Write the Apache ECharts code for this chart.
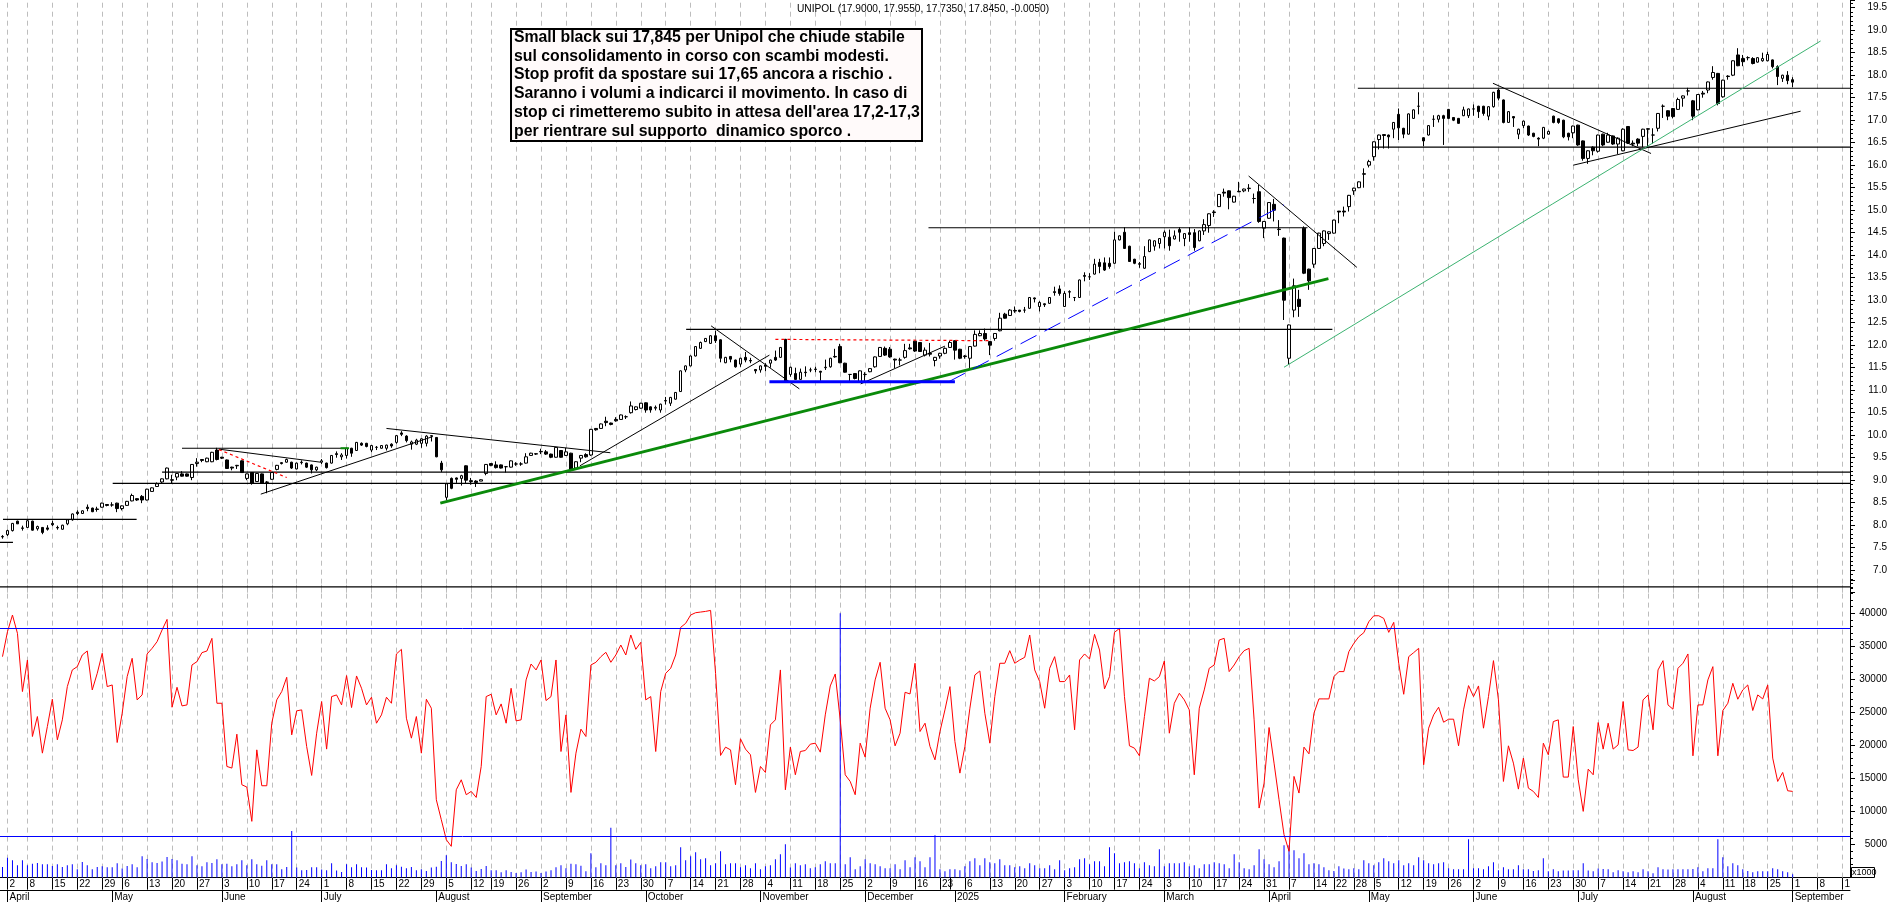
<!DOCTYPE html>
<html>
<head>
<meta charset="utf-8">
<title>UNIPOL</title>
<script src="https://cdn.jsdelivr.net/npm/echarts@6/dist/echarts.min.js"></script>
<style>
  html, body { margin: 0; padding: 0; background: #fff; overflow: hidden; }
  #main { width: 1890px; height: 902px; }
</style>
</head>
<body>
<div id="main"></div>
<script>
// one row per session: open, close, low, high
const ohlc = [
[7.74,7.75,7.70,7.78],[7.79,7.88,7.76,7.90],[7.88,8.04,7.86,8.05],[8.09,8.03,8.03,8.10],[7.94,7.93,7.88,7.99],
[7.95,8.10,7.95,8.11],[8.09,7.89,7.88,8.10],[7.92,7.97,7.88,7.99],[7.95,7.84,7.80,7.96],[7.94,7.91,7.88,8.00],
[8.04,8.01,7.98,8.10],[7.95,7.94,7.90,7.99],[7.91,8.00,7.90,8.01],[8.03,8.12,8.00,8.13],[8.12,8.25,8.10,8.26],
[8.29,8.26,8.22,8.33],[8.26,8.32,8.25,8.33],[8.40,8.37,8.31,8.46],[8.38,8.30,8.29,8.39],[8.36,8.35,8.30,8.41],
[8.40,8.49,8.39,8.50],[8.46,8.44,8.42,8.47],[8.45,8.45,8.41,8.51],[8.49,8.37,8.29,8.50],[8.37,8.43,8.33,8.44],
[8.44,8.53,8.43,8.54],[8.54,8.66,8.53,8.70],[8.59,8.56,8.54,8.60],[8.64,8.56,8.49,8.67],[8.56,8.80,8.55,8.81],
[8.75,8.83,8.74,8.84],[8.86,8.92,8.85,8.95],[8.96,9.03,8.93,9.04],[9.03,9.27,9.02,9.28],[9.01,9.00,8.93,9.12],
[9.07,9.15,9.00,9.16],[9.14,9.09,9.08,9.20],[9.14,9.09,9.08,9.15],[9.06,9.35,9.00,9.36],[9.37,9.40,9.30,9.49],
[9.46,9.44,9.40,9.47],[9.41,9.49,9.40,9.50],[9.41,9.62,9.40,9.63],[9.67,9.46,9.44,9.72],[9.51,9.49,9.47,9.52],
[9.45,9.26,9.25,9.46],[9.29,9.27,9.22,9.30],[9.32,9.33,9.25,9.34],[9.43,9.17,9.16,9.44],[9.04,9.14,9.00,9.15],
[9.17,8.93,8.90,9.18],[8.97,9.15,8.96,9.16],[9.14,8.93,8.92,9.15],[8.95,8.96,8.71,8.98],[9.02,9.17,9.01,9.18],
[9.24,9.33,9.22,9.34],[9.39,9.37,9.35,9.40],[9.40,9.46,9.39,9.48],[9.40,9.27,9.25,9.41],[9.25,9.38,9.24,9.39],
[9.39,9.40,9.35,9.44],[9.38,9.29,9.27,9.39],[9.34,9.23,9.15,9.35],[9.23,9.29,9.20,9.30],[9.40,9.43,9.36,9.47],
[9.38,9.28,9.26,9.39],[9.38,9.55,9.37,9.56],[9.59,9.57,9.50,9.64],[9.52,9.56,9.45,9.60],[9.55,9.71,9.48,9.72],
[9.71,9.60,9.52,9.72],[9.66,9.84,9.65,9.85],[9.82,9.78,9.76,9.84],[9.82,9.75,9.73,9.83],[9.67,9.77,9.62,9.78],
[9.73,9.73,9.67,9.76],[9.71,9.77,9.70,9.78],[9.71,9.78,9.66,9.79],[9.80,9.76,9.72,9.82],[9.84,9.99,9.81,10.00],
[10.05,10.02,9.98,10.09],[9.98,9.88,9.84,10.00],[9.80,9.85,9.68,9.88],[9.80,9.89,9.78,9.92],[9.82,9.92,9.72,9.93],
[9.82,9.98,9.75,10.00],[9.98,9.99,9.86,10.00],[9.95,9.52,9.51,9.96],[9.38,9.23,9.18,9.43],[8.62,8.92,8.56,8.93],
[9.04,8.82,8.80,9.06],[9.05,9.02,8.94,9.06],[9.04,9.10,8.88,9.12],[9.32,9.00,8.92,9.33],[8.99,8.97,8.90,9.05],
[8.98,8.95,8.85,9.00],[8.98,9.01,8.98,9.02],[9.15,9.35,9.11,9.36],[9.37,9.33,9.31,9.38],[9.34,9.28,9.26,9.42],
[9.34,9.27,9.26,9.35],[9.30,9.30,9.17,9.31],[9.29,9.43,9.28,9.44],[9.36,9.36,9.32,9.40],[9.36,9.36,9.32,9.40],
[9.38,9.52,9.37,9.60],[9.55,9.60,9.54,9.61],[9.58,9.59,9.56,9.60],[9.63,9.64,9.58,9.70],[9.63,9.58,9.56,9.67],
[9.58,9.51,9.49,9.59],[9.51,9.73,9.50,9.74],[9.66,9.51,9.50,9.67],[9.55,9.63,9.54,9.72],[9.60,9.24,9.20,9.61],
[9.27,9.41,9.26,9.42],[9.49,9.55,9.40,9.56],[9.57,9.52,9.50,9.60],[9.56,10.13,9.54,10.14],[10.15,10.12,10.10,10.16],
[10.15,10.25,10.14,10.26],[10.31,10.28,10.20,10.41],[10.27,10.24,10.22,10.28],[10.35,10.32,10.30,10.40],[10.35,10.45,10.34,10.46],
[10.41,10.41,10.36,10.44],[10.50,10.65,10.48,10.75],[10.57,10.63,10.55,10.64],[10.60,10.71,10.59,10.72],[10.72,10.56,10.50,10.73],
[10.63,10.56,10.50,10.64],[10.60,10.62,10.55,10.66],[10.56,10.69,10.50,10.70],[10.76,10.77,10.68,10.85],[10.71,10.84,10.65,10.85],
[10.80,10.95,10.79,10.96],[10.97,11.43,10.96,11.44],[11.45,11.54,11.40,11.55],[11.54,11.76,11.53,11.77],[11.76,11.97,11.75,11.98],
[11.93,12.06,11.92,12.08],[12.08,12.15,12.07,12.16],[12.04,12.21,12.03,12.22],[12.21,12.10,12.05,12.32],[12.12,11.71,11.62,12.13],
[11.61,11.73,11.60,11.74],[11.75,11.69,11.62,11.76],[11.67,11.52,11.50,11.68],[11.58,11.71,11.52,11.72],[11.73,11.67,11.62,11.85],
[11.66,11.65,11.60,11.72],[11.46,11.43,11.37,11.47],[11.45,11.54,11.39,11.55],[11.56,11.53,11.42,11.60],[11.60,11.67,11.50,11.68],
[11.73,11.67,11.65,11.88],[11.73,11.95,11.72,11.96],[12.13,11.19,11.17,12.14],[11.35,11.51,11.30,11.52],[11.37,11.24,11.23,11.50],
[11.24,11.40,11.23,11.48],[11.40,11.39,11.30,11.53],[11.45,11.45,11.40,11.50],[11.46,11.47,11.40,11.52],[11.42,11.40,11.21,11.43],
[11.50,11.51,11.45,11.68],[11.52,11.71,11.50,11.72],[11.75,11.74,11.72,11.92],[11.97,11.61,11.60,12.03],[11.60,11.40,11.39,11.61],
[11.35,11.35,11.18,11.36],[11.37,11.26,11.24,11.38],[11.19,11.43,11.16,11.44],[11.35,11.35,11.20,11.40],[11.41,11.48,11.40,11.49],
[11.52,11.74,11.50,11.75],[11.75,11.95,11.74,11.96],[11.93,11.78,11.76,11.97],[11.91,11.74,11.72,11.96],[11.69,11.67,11.49,11.70],
[11.67,11.67,11.55,11.72],[11.73,11.88,11.70,12.03],[11.94,11.92,11.90,12.03],[12.09,11.87,11.85,12.10],[12.06,11.86,11.85,12.07],
[11.78,11.89,11.75,11.95],[11.82,11.80,11.75,12.05],[11.66,11.73,11.53,11.74],[11.76,11.82,11.70,11.83],[11.82,11.93,11.80,11.95],
[11.95,12.06,11.94,12.10],[12.10,11.89,11.68,12.11],[11.91,11.71,11.69,11.92],[11.76,11.75,11.70,11.78],[11.71,11.97,11.48,11.98],
[11.98,12.24,11.97,12.33],[12.21,12.26,12.20,12.33],[12.26,12.14,12.10,12.37],[12.08,12.00,11.78,12.09],[12.15,12.26,12.10,12.27],
[12.32,12.60,12.31,12.72],[12.69,12.60,12.59,12.72],[12.66,12.78,12.65,12.80],[12.77,12.76,12.72,12.86],[12.78,12.75,12.73,12.78],
[12.78,12.78,12.72,12.85],[12.82,13.06,12.81,13.07],[13.05,13.03,12.95,13.06],[12.86,12.95,12.75,12.98],[12.92,12.90,12.85,12.93],
[12.93,13.06,12.92,13.07],[13.19,13.17,13.10,13.30],[13.25,13.15,13.10,13.33],[12.86,13.15,12.85,13.20],[13.19,13.18,13.05,13.22],
[13.06,13.06,12.98,13.07],[13.06,13.45,13.05,13.46],[13.55,13.53,13.42,13.62],[13.52,13.52,13.45,13.60],[13.58,13.80,13.57,13.92],
[13.84,13.75,13.60,13.92],[13.83,13.67,13.65,13.95],[13.82,13.75,13.70,13.95],[13.82,14.34,13.81,14.52],[14.34,14.43,14.33,14.44],
[14.51,14.15,14.14,14.62],[14.20,13.86,13.85,14.21],[13.91,13.82,13.80,13.92],[13.81,13.80,13.72,13.85],[13.71,13.97,13.70,14.20],
[14.08,14.34,14.07,14.35],[14.20,14.32,14.10,14.33],[14.26,14.37,14.15,14.38],[14.41,14.51,14.15,14.55],[14.40,14.21,14.10,14.57],
[14.36,14.43,14.35,14.55],[14.57,14.51,14.30,14.62],[14.37,14.48,14.20,14.49],[14.50,14.46,14.30,14.62],[14.50,14.17,14.10,14.58],
[14.32,14.54,14.31,14.55],[14.54,14.68,14.45,14.80],[14.66,14.92,14.50,14.93],[14.96,14.95,14.85,15.00],[15.08,15.35,15.07,15.36],
[15.40,15.38,15.30,15.48],[15.43,15.28,15.02,15.44],[15.18,15.31,15.17,15.32],[15.42,15.41,15.40,15.63],[15.43,15.47,15.40,15.48],
[15.48,15.49,15.41,15.58],[15.26,15.26,15.15,15.37],[15.41,14.75,14.72,15.56],[14.60,14.75,14.38,14.76],[14.82,15.17,14.81,15.18],
[15.13,15.00,14.75,15.25],[14.58,14.57,14.43,14.78],[14.38,13.00,12.56,14.39],[11.71,12.45,11.58,12.46],[12.78,13.32,12.62,13.48],
[13.02,12.86,12.63,13.23],[14.60,13.60,13.58,14.64],[13.69,13.43,13.23,13.70],[13.80,14.15,13.72,14.16],[14.15,14.49,14.14,14.50],
[14.26,14.54,14.20,14.55],[14.48,14.52,14.34,14.53],[14.49,14.78,14.48,14.79],[14.98,14.96,14.71,14.98],[14.98,14.96,14.86,15.08],
[15.08,15.33,14.97,15.34],[15.43,15.49,15.34,15.50],[15.50,15.63,15.49,15.64],[15.81,15.80,15.50,15.93],[16.00,16.08,15.95,16.12],
[16.19,16.52,16.10,16.53],[16.57,16.67,16.35,16.68],[16.68,16.66,16.37,16.69],[16.67,16.63,16.37,16.68],[16.80,16.95,16.60,16.96],
[17.13,16.83,16.56,17.26],[16.82,16.69,16.60,16.83],[16.69,17.14,16.68,17.15],[17.04,17.23,17.03,17.24],[17.31,17.31,17.13,17.62],
[16.61,16.54,16.42,16.62],[16.67,16.88,16.66,16.89],[17.02,17.02,16.85,17.11],[17.02,17.10,16.95,17.12],[17.10,17.04,16.45,17.12],
[17.24,17.04,17.02,17.25],[17.06,17.00,16.98,17.07],[17.04,16.93,16.92,17.05],[17.10,17.23,17.09,17.30],[17.10,17.25,17.05,17.26],
[17.25,17.25,17.10,17.35],[17.31,17.19,17.05,17.32],[17.31,17.15,17.10,17.32],[17.09,17.30,17.00,17.31],[17.30,17.62,17.28,17.63],
[17.67,17.49,17.44,17.70],[17.45,16.95,16.93,17.46],[16.95,17.19,16.94,17.20],[17.08,17.05,16.85,17.09],[16.69,16.80,16.58,16.81],
[16.88,16.98,16.82,16.99],[16.87,16.67,16.65,16.88],[16.71,16.64,16.62,16.72],[16.60,16.58,16.42,16.62],[16.60,16.84,16.58,16.85],
[16.69,16.75,16.68,16.77],[17.09,16.95,16.93,17.10],[17.03,16.95,16.92,17.04],[17.00,16.63,16.60,17.01],[16.71,16.63,16.55,16.72],
[16.72,16.87,16.60,16.88],[16.89,16.45,16.43,16.90],[16.54,16.15,16.10,16.55],[16.15,16.32,16.03,16.33],[16.40,16.32,16.22,16.42],
[16.31,16.67,16.28,16.68],[16.69,16.45,16.42,16.70],[16.51,16.67,16.50,16.72],[16.65,16.47,16.45,16.66],[16.47,16.60,16.25,16.62],
[16.32,16.80,16.31,16.82],[16.86,16.49,16.47,16.87],[16.49,16.47,16.42,16.55],[16.58,16.49,16.42,16.60],[16.64,16.80,16.40,16.81],
[16.81,16.80,16.40,16.82],[16.67,16.67,16.48,16.82],[16.82,17.15,16.75,17.16],[17.31,17.31,17.05,17.35],[17.21,17.09,17.00,17.22],
[17.26,17.08,17.04,17.27],[17.24,17.46,17.23,17.50],[17.49,17.54,17.30,17.55],[17.65,17.65,17.55,17.72],[17.43,17.09,17.00,17.45],
[17.23,17.57,17.22,17.58],[17.60,17.58,17.50,17.65],[17.67,17.85,17.60,17.86],[17.95,18.06,17.90,18.20],[18.04,17.37,17.33,18.05],
[17.52,17.89,17.50,17.90],[17.98,17.97,17.90,18.00],[18.00,18.32,17.98,18.33],[18.45,18.21,18.20,18.60],[18.37,18.30,18.20,18.45],
[18.39,18.39,18.33,18.42],[18.37,18.26,18.24,18.40],[18.29,18.39,18.28,18.40],[18.32,18.37,18.30,18.50],[18.32,18.46,18.31,18.52],
[18.34,18.19,18.15,18.35],[18.19,17.97,17.78,18.22],[17.93,18.00,17.85,18.01],[18.00,17.88,17.80,18.09],[17.90,17.845,17.735,17.955]
];

const volumes = [
1610,3020,2620,1860,2620,1860,2110,2220,2010,2010,1760,2010,1610,1860,2010,1260,2370,1860,1260,1610,
1710,1560,1560,2170,1360,1760,2010,1560,3220,2820,2320,2220,2420,3120,2820,2620,2110,2010,3220,1860,
1710,2320,2220,2770,2010,2110,1710,2010,2620,1860,2770,2010,1810,2620,2010,2010,1260,1610,7050,1510,
1110,1160,1560,1560,1210,1110,2170,1060,860,2010,1560,2010,1560,1510,1160,1110,1110,2010,1410,1860,
1660,1410,1610,1110,1260,1010,1510,1660,2520,3370,2320,2060,1760,2010,1510,1010,1310,1760,1110,1110,
810,1110,860,700,810,1210,860,910,700,910,1110,1560,1860,1410,2110,2010,1810,960,3680,1560,
2170,1860,7550,1860,2170,1610,2720,2170,1860,2010,1410,1710,2320,2320,1710,1860,4580,2620,3220,3830,
2770,2920,1860,2170,3980,2010,2170,2170,1560,1860,1410,2170,1260,1710,1860,2770,3520,5040,1510,2170,
1860,2010,1410,1560,2010,2470,2170,2170,40000,2010,3070,1260,1710,2770,2170,2010,1710,1410,1410,2010,
1260,2620,1560,3070,2470,1560,3070,6390,1260,960,1260,1260,1110,1710,2470,2920,1860,2920,2320,2170,
2770,1860,1860,1560,1710,1410,2170,1860,1410,1410,1860,1260,2620,1110,1410,1560,2770,2920,2010,2470,
2470,1710,4580,3680,2170,2320,2470,2170,1410,2320,1860,1710,4280,1710,2170,2170,2170,2320,1710,1860,
1410,2010,2010,2320,2170,2010,1410,3520,2320,1410,1260,1860,4280,2770,2010,1560,2470,4880,4880,4130,
2920,3680,2010,2170,2010,1560,1110,1010,1710,1360,1260,1410,1260,2620,2170,1860,2320,2920,2470,2170,
2620,1860,2170,1860,3070,2620,2170,2010,2170,2320,1410,1260,1260,1260,5790,1410,1410,1260,1710,2320,
1110,1560,1260,1260,1860,1260,1260,1010,1110,2920,960,1260,960,1060,1060,1110,1110,2170,1060,960,
1360,1310,1260,810,1110,960,810,960,810,1260,960,650,1560,1260,1210,1260,1260,1260,1260,1310,
1560,960,1410,1410,5790,3070,1710,2170,1860,1260,1010,810,960,960,960,1410,1260,960,810,500
];

const volumeLine = [
33430,37210,39730,36960,28150,32930,21350,24370,18830,22860,26990,20850,23870,28900,31420,31920,33680,34290,28400,30910,
33940,28900,29150,20440,24870,30410,33180,26890,27640,33840,34690,35700,37460,39070,25780,28800,25980,26130,32170,32680,
34040,34290,36200,26380,26380,16820,16570,21700,14050,13700,8510,19330,13900,13900,23360,26890,28150,30310,21600,25230,
25380,19840,15460,21850,26640,19440,27390,27640,26130,30560,25730,30510,28650,26130,27290,23360,24620,27290,26380,33840,
34540,24120,21100,24370,18830,26990,25630,11780,8760,5740,4730,13290,14800,12540,13040,12130,16820,27390,27740,24620,
26280,23360,28650,23710,23870,29910,32320,31420,32930,26790,27390,32930,19080,24620,12890,18830,22460,21350,32170,32580,
33430,34090,32580,33680,35190,33680,36710,34540,35600,26890,27390,19080,28150,30910,31670,33680,37860,38470,39730,40080,
40180,40280,40430,30910,18480,19740,19330,14050,21000,19440,18580,12890,16820,15910,23110,23870,31420,13290,19740,15560,
19080,19230,20190,20340,18980,24620,29000,30810,23870,15560,14550,12540,20340,18230,25630,29910,32580,25630,23870,19940,
21850,28040,27790,32430,22100,23360,19840,17820,22100,25380,28900,20590,15810,19840,25630,30660,31270,24870,20340,27390,
32430,32430,34340,32430,32930,33330,36710,31420,29660,25630,31670,33430,29660,29660,30660,22360,32930,33840,33080,36810,
34440,28550,30410,37110,37710,27390,19940,19590,18430,24370,30160,29760,30410,32780,21850,26380,27890,26890,25380,15560,
25630,28400,31670,32170,35950,36200,31170,32170,33430,34340,34690,23870,10520,14300,22710,17320,11780,6500,3980,15310,
12790,19740,18730,24870,27040,27040,27040,30410,31170,31170,34190,35450,36450,37060,38720,39620,39620,39220,37110,38620,
32430,27740,33430,34040,34690,17070,22610,24620,25780,23510,23970,23970,19940,25380,29050,27390,29000,22610,27390,32830,
26890,14550,19940,17320,13390,18080,13540,13040,12130,20340,18580,23610,23870,15210,15210,22860,14800,10020,16410,15560,
23460,19440,23360,19440,20090,26640,19330,19230,19740,26890,27640,22360,31420,32830,26130,25480,31670,32430,33840,18430,
26130,26130,29910,31920,18430,25280,26380,29400,26990,28400,29150,25280,27640,27040,29150,18080,14550,15910,13140,13040
];

const volumeLevels = [37730, 6300];

// bar position, day of the month shown under the weekly gridlines
const weekIdx = [1,5,10,15,20,24,29,34,39,44,49,54,59,64,69,74,79,84,89,94,98,103,108,113,118,123,128,133,138,143,148,153,158,163,168,173,178,183,188,193,198,203,208,213,218,223,228,233,238,243,248,253,258,263,267,271,275,280,285,290,295,300,305,310,315,320,325,330,335,340,345,349,354,359,364,369];
const weekLabels = ['2','8','15','22','29','6','13','20','27','3','10','17','24','1','8','15','22','29','5','12','19','26','2','9','16','23','30','7','14','21','28','4','11','18','25','2','9','16','23','6','13','20','27','3','10','17','24','3','10','17','24','31','7','14','22','28','5','12','19','26','2','9','16','23','30','7','14','21','28','4','11','18','25','1','8','1'];
const extraTickIdx = [190];

const monthIdx = [1,22,44,64,87,108,129,152,173,191,213,233,254,274,295,316,339,359];
const monthLabels = ['April','May','June','July','August','September','October','November','December','2025','February','March','April','May','June','July','August','September'];

// [bar, price, bar, price]
const blackLevels = [
  [-0.5,7.62,2.1,7.62],[0.1,8.13,26.9,8.13],[22.1,8.93,370.5,8.93],[32,9.18,370.5,9.18],[36,9.71,68.8,9.71],
  [137.1,12.35,266.7,12.35],[185.7,14.61,261.7,14.61],[271.8,17.71,370.5,17.71],[274.7,16.40,370.5,16.40],
  [-0.5,6.63,370.5,6.63]
];
const blackTrends = [
  [43.4,9.69,63.8,9.40],[51.8,8.69,86.3,9.97],[77,10.15,121.9,9.61],[115.8,9.32,153.8,11.78],
  [142.1,12.43,159.8,11.03],[172.1,11.14,189,11.98],[249.9,15.76,271.6,13.73],[298.9,17.82,330.6,16.26],
  [315,16.0,360.6,17.2]
];
const greenLines = [[87.8,8.49,265.9,13.48]];
const seaGreenLines = [[257,11.51,364.6,18.76]];
const blueLines = [[153.8,11.19,191,11.19]];
const blueDashedLines = [[189.8,11.19,257,15.12]];
const redDashedLines = [[43.4,9.68,57,9.06],[155,12.13,198.3,12.10]];
const greenMarks = [[67.8,9.71,69.5,9.71]];

const titleText = 'UNIPOL (17.9000, 17.9550, 17.7350, 17.8450, -0.0050)';
const noteText = "Small black sui 17,845 per Unipol che chiude stabile\n" +
  "sul consolidamento in corso con scambi modesti.\n" +
  "Stop profit da spostare sui 17,65 ancora a rischio .\n" +
  "Saranno i volumi a indicarci il movimento. In caso di\n" +
  "stop ci rimetteremo subito in attesa dell'area 17,2-17,3\n" +
  "per rientrare sul supporto  dinamico sporco .";

const barCount = 371;
const categories = Array.from({ length: barCount }, (_, i) => String(i));
const fontName = '"Liberation Sans", Arial, sans-serif';

const weekLabelAt = {};
weekIdx.forEach((idx, i) => { weekLabelAt[idx] = weekLabels[i]; });
const monthLabelAt = {};
monthIdx.forEach((idx, i) => { monthLabelAt[idx] = monthLabels[i]; });
const isWeek = i => weekIdx.includes(i);
const isTick = i => weekIdx.includes(i) || extraTickIdx.includes(i);
const isMonth = i => monthIdx.includes(i);

function segments(list, lineStyle) {
  return list.map(s => ({
    type: 'line',
    xAxisIndex: 1,
    yAxisIndex: 0,
    data: [[s[0], s[1]], [s[2], s[3]]],
    showSymbol: false,
    silent: true,
    z: 5,
    lineStyle: lineStyle
  }));
}

// weekly dashed gridlines, carried by an empty series so they sit under the marks
function weekGrid(xAxisIndex, yAxisIndex) {
  return {
    type: 'line', xAxisIndex, yAxisIndex, data: categories.map(() => '-'),
    showSymbol: false, silent: true, z: 1, lineStyle: { width: 0 },
    markLine: {
      silent: true, z: 1, symbol: 'none', label: { show: false }, animation: false,
      lineStyle: { color: '#bdbdbd', width: 1, type: [5, 4] },
      data: weekIdx.map(i => ({ xAxis: i }))
    }
  };
}

const chart = echarts.init(document.getElementById('main'));
chart.setOption({
  animation: false,
  backgroundColor: '#fff',
  textStyle: { fontFamily: fontName },
  title: {
    text: titleText,
    left: 797,
    top: 4,
    padding: 0,
    textStyle: { fontSize: 10.2, fontWeight: 'normal', color: '#000', fontFamily: fontName }
  },
  grid: [
    { left: 0, top: 0, width: 1850, height: 592.7 },
    { left: 0, top: 580.2, width: 1850, height: 297.4 },
    { left: 0, top: 889, width: 1850, height: 1 }
  ],
  xAxis: [
    {
      type: 'category', gridIndex: 0, data: categories,
      axisLine: { show: false, onZero: false }, axisTick: { show: false }, axisLabel: { show: false },
      splitLine: { show: false }
    },
    { type: 'value', gridIndex: 0, min: -0.5, max: 370.5, show: false, axisLine: { onZero: false } },
    {
      type: 'category', gridIndex: 1, data: categories,
      axisLine: { show: true, onZero: false, lineStyle: { color: '#000', width: 1 } },
      axisTick: { show: true, alignWithLabel: true, interval: i => isTick(i), length: 12, lineStyle: { color: '#000' } },
      axisLabel: {
        show: true, interval: i => isWeek(i), formatter: v => weekLabelAt[v] || '',
        align: 'left', padding: [0, 0, 0, 2], margin: 2, fontSize: 10, color: '#000', hideOverlap: false
      },
      splitLine: { show: false }
    },
    {
      type: 'category', gridIndex: 2, data: categories,
      axisLine: { show: true, onZero: false, lineStyle: { color: '#000', width: 1 } },
      axisTick: { show: true, alignWithLabel: true, interval: i => isMonth(i), length: 12, lineStyle: { color: '#000' } },
      axisLabel: {
        show: true, interval: i => isMonth(i), formatter: v => monthLabelAt[v] || '',
        align: 'left', padding: [0, 0, 0, 2], margin: 2, fontSize: 10, color: '#000', hideOverlap: false
      }
    }
  ],
  yAxis: [
    {
      type: 'value', gridIndex: 0, position: 'right', min: 6.5, max: 19.671, interval: 0.5,
      axisLine: { show: true, onZero: false, lineStyle: { color: '#000' } },
      axisTick: { show: true, length: 5, lineStyle: { color: '#000' } },
      minorTick: { show: true, splitNumber: 5, length: 3, lineStyle: { color: '#000' } },
      splitLine: { show: false },
      axisLabel: {
        align: 'right', margin: 37, fontSize: 10, color: '#000',
        showMinLabel: false, showMaxLabel: false,
        formatter: v => v.toFixed(1)
      }
    },
    {
      type: 'value', gridIndex: 1, position: 'right', min: 0, max: 45000, interval: 5000,
      axisLine: { show: true, onZero: false, lineStyle: { color: '#000' } },
      axisTick: { show: true, length: 5, lineStyle: { color: '#000' } },
      minorTick: { show: true, splitNumber: 5, length: 3, lineStyle: { color: '#000' } },
      splitLine: { show: false },
      axisLabel: {
        align: 'right', margin: 37, fontSize: 10, color: '#000',
        showMinLabel: false, showMaxLabel: false,
        formatter: v => String(v)
      }
    },
    { type: 'value', gridIndex: 2, show: false }
  ],
  series: [
    weekGrid(0, 0),
    weekGrid(2, 1),
    {
      type: 'candlestick', xAxisIndex: 0, yAxisIndex: 0, data: ohlc,
      barWidth: 3, silent: true, z: 4,
      itemStyle: { color: '#fff', color0: '#000', borderColor: '#000', borderColor0: '#000', borderWidth: 1 }
    },
    ...segments(blackLevels, { color: '#000', width: 1.2 }),
    ...segments(blackTrends, { color: '#000', width: 1 }),
    ...segments(greenLines, { color: '#0a8a0a', width: 3 }),
    ...segments(seaGreenLines, { color: '#3cb371', width: 1 }),
    ...segments(blueLines, { color: '#0000ff', width: 3 }),
    ...segments(blueDashedLines, { color: '#0000ff', width: 1, type: [18, 9] }),
    ...segments(redDashedLines, { color: '#ff0000', width: 1.2, type: [3, 3] }),
    ...segments(greenMarks, { color: '#0a8a0a', width: 2 }),
    {
      type: 'bar', xAxisIndex: 2, yAxisIndex: 1, data: volumes,
      barWidth: 1, silent: true, z: 3, itemStyle: { color: '#0000ff' }
    },
    {
      type: 'line', xAxisIndex: 2, yAxisIndex: 1, data: volumeLine,
      showSymbol: false, silent: true, z: 4,
      lineStyle: { color: '#ff0000', width: 1 },
      markLine: {
        silent: true, symbol: 'none', label: { show: false }, animation: false,
        lineStyle: { color: '#0000ff', width: 1, type: 'solid' },
        data: volumeLevels.map(v => ({ yAxis: v }))
      }
    }
  ],
  graphic: [
    {
      type: 'rect', z: 20, left: 510, top: 28,
      shape: { width: 411, height: 112 },
      style: { fill: '#fffafa', stroke: '#000', lineWidth: 2 }
    },
    {
      type: 'text', z: 21, left: 514, top: 28,
      style: { text: noteText, font: 'bold 15.8px ' + fontName, lineHeight: 18.8, fill: '#000' }
    },
    {
      type: 'rect', z: 20, left: 1851, top: 867,
      shape: { width: 23, height: 10 },
      style: { fill: '#fff', stroke: '#000', lineWidth: 1 }
    },
    {
      type: 'text', z: 21, left: 1852, top: 868,
      style: { text: 'x1000', font: '9px ' + fontName, fill: '#000' }
    }
  ]
});
</script>
</body>
</html>
